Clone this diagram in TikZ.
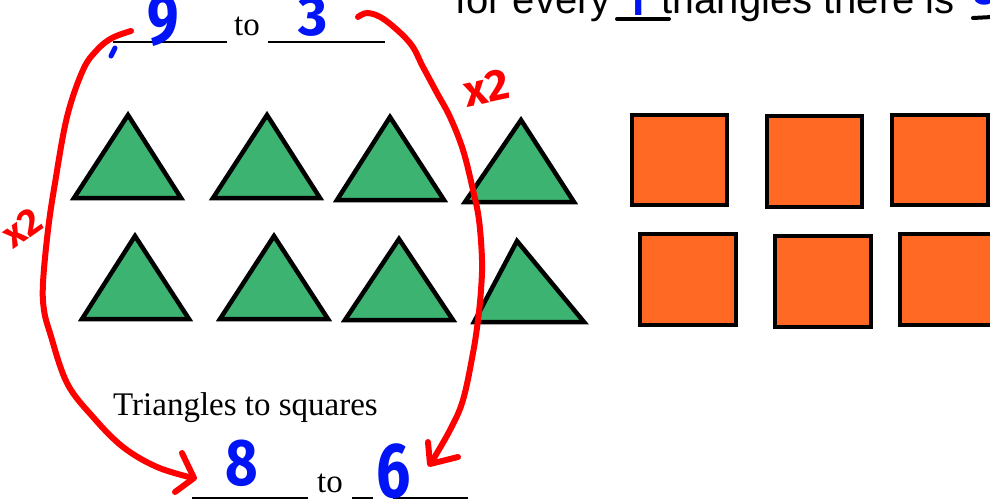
\documentclass[tikz,border=0pt]{standalone}
\usepackage{fontspec}
\setmainfont{Liberation Serif}
\newfontfamily\arialf{Liberation Sans}
\newfontfamily\handf{Fira Sans}
\definecolor{trigreen}{RGB}{60,179,113}
\definecolor{sqorange}{RGB}{255,105,35}
\definecolor{penred}{RGB}{255,0,0}
\definecolor{penblue}{RGB}{0,20,245}
\tikzset{
  tri/.style={fill=trigreen,draw=black,line width=4.5pt,line join=miter},
  sq/.style={fill=sqorange,draw=black,line width=4.5pt},
  serif/.style={font=\fontsize{33}{37}\selectfont,inner sep=0pt},
  blank/.style={draw=black,line width=1.2pt},
  redpen/.style={draw=penred,line width=6pt,line cap=round,line join=round},
  bluenum/.style={text=penblue,inner sep=0pt,font=\handf\bfseries\fontsize{#1}{#1}\selectfont},
  rednum/.style={text=penred,inner sep=0pt,font=\handf\bfseries\fontsize{#1}{#1}\selectfont},
}
\begin{document}
\begin{tikzpicture}[x=1pt,y=-1pt]
\useasboundingbox (0,0) rectangle (990,499);
\clip (0,0) rectangle (990,499);
% triangles row 1
\draw[tri] (74,198) -- (128,115) -- (181,198) -- cycle;
\draw[tri] (213,198) -- (267,115) -- (320,198) -- cycle;
\draw[tri] (337,200) -- (390,117) -- (444,200) -- cycle;
\draw[tri] (465,202) -- (521,120) -- (574,202) -- cycle;
% triangles row 2
\draw[tri] (82,319) -- (135,236) -- (189,319) -- cycle;
\draw[tri] (220,319) -- (274,236) -- (328,319) -- cycle;
\draw[tri] (345,320) -- (399,239) -- (453,320) -- cycle;
\draw[tri] (474,322) -- (517,241) -- (584,322) -- cycle;
% squares
\draw[sq] (632,115) rectangle (727,205);
\draw[sq] (767,116) rectangle (862,207);
\draw[sq] (892,115) rectangle (988,205);
\draw[sq] (640,234) rectangle (736,325);
\draw[sq] (775,236) rectangle (871,327);
\draw[sq] (900,234) rectangle (1000,325);
% top text
\node[serif,anchor=base] (to1) at (247,35) {to};
\draw[blank] (113,42) -- (227,42);
\draw[blank] (268,42) -- (385,42);
\node[serif,anchor=base west] (title) at (113,415) {Triangles to squares};
\node[serif,anchor=base] (to2) at (330,492) {to};
\draw[blank] (192,498) -- (308,498);
\draw[blank] (352,498) -- (373,498);
\draw[blank] (393,498) -- (468,498);
% top-right sentence
\node[anchor=base west,inner sep=0pt,font=\arialf\fontsize{40}{44}\selectfont] (every) at (455,13) {for every};
\node[anchor=base west,inner sep=0pt,font=\arialf\fontsize{40}{44}\selectfont] (there) at (661,13) {triangles there is};
\draw[black,line width=4pt,line cap=round] (617,19) -- (669,19);
\draw[black,line width=4pt,line cap=round] (973,18) -- (992,17);
\node[bluenum=40,anchor=base] (one) at (636,15) {1};
\node[bluenum=40,anchor=base west] (three2) at (975,4) {3};
% handwritten numbers
\node[bluenum=72,anchor=base,xscale=0.78] (nine) at (163,44) {9};
\node[bluenum=56,anchor=base] (three) at (313,35) {3};
\node[bluenum=66,anchor=base,xscale=0.85] (eight) at (242,485) {8};
\node[bluenum=78,anchor=base,xscale=0.78] (six) at (394,497) {6};
\draw[penblue,line width=5pt,line cap=round] (115,48) -- (111,56);
% red arrows
\draw[redpen] plot[smooth,tension=0.6] coordinates {(131,31) (112,38) (97,50) (83,70) (67,117) (55,183) (48,230) (43,283) (44,310) (50,333) (67,383) (93,417) (123,447) (157,467) (193,478)};
\draw[redpen] (182,453) -- (194,478) -- (175,492);
\draw[redpen] plot[smooth,tension=0.6] coordinates {(358,17) (368,13) (385,20) (410,43) (423,67) (437,93) (450,117) (463,150) (473,190) (479,220) (482,260) (481,290) (478,320) (473,353) (463,400) (450,430) (431,463)};
\draw[redpen] (428,442) -- (430,464) -- (458,457);
\node[rednum=44,rotate=12] (x2a) at (486,88) {x2};
\node[rednum=38,rotate=35] (x2b) at (22,228) {x2};
\end{tikzpicture}
\end{document}
